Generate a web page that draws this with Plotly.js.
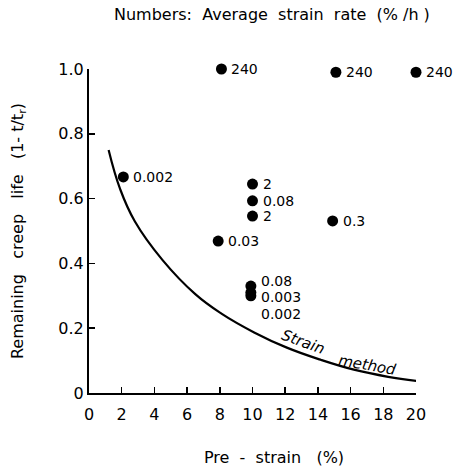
<!DOCTYPE html>
<html><head><meta charset="utf-8">
<script src="https://cdn.plot.ly/plotly-3.0.1.min.js"></script>
<style>html,body{margin:0;padding:0;background:#fff}#chart{width:472px;height:475px}</style>
</head><body><div id="chart"></div>
<script>
// Data points: pre-strain (%), remaining creep life, average strain rate label (%/h)
const preStrain     = [8.1, 15.1, 20.0, 2.1, 10.0, 10.0, 10.0, 14.9, 7.9, 9.9, 9.9, 9.9];
const remainingLife = [1.0, 0.99, 0.99, 0.667, 0.645, 0.593, 0.546, 0.531, 0.469, 0.33, 0.31, 0.30];
const rateLabels    = ['240','240','240','0.002','2','0.08','2','0.3','0.03','0.08','0.003','0.002'];
// "Strain method" curve
const curveX = [1.2, 1.9, 2.8, 4.5, 6.5, 8.1, 10.1, 12.1, 14.2, 16.2, 18.3, 20.1];
const curveY = [0.75, 0.63, 0.53, 0.41, 0.305, 0.245, 0.187, 0.14, 0.102, 0.072, 0.05, 0.037];
// Axis ticks
const xTicks = [0,2,4,6,8,10,12,14,16,18,20];
const yTicks = [0,0.2,0.4,0.6,0.8,1.0];
const yTickText = ['0','0.2','0.4','0.6','0.8','1.0'];

// label placement offsets (px), styling only
const labelShiftY = [0,0,0,0,0,0,0,0,0,5,-4,-18];

const FONT = 'DejaVu Sans, sans-serif';
const traces = [
  {x: curveX, y: curveY, mode: 'lines', line: {color: '#000', width: 2.2, shape: 'spline', smoothing: 1.2}, hoverinfo: 'skip'},
  {x: preStrain, y: remainingLife, mode: 'markers', marker: {color: '#000', size: 11}, cliponaxis: false}
];
const annotations = rateLabels.map((t, i) => ({
  x: preStrain[i], y: remainingLife[i], text: t, showarrow: false,
  xanchor: 'left', yanchor: 'middle', xshift: 8, yshift: labelShiftY[i],
  font: {family: FONT, size: 14, color: '#000'}
}));
annotations.push({x: 13.1, y: 0.158, text: '<i>Strain</i>', showarrow: false, textangle: 20,
  font: {family: FONT, size: 15, color: '#000'}});
annotations.push({x: 17.0, y: 0.085, text: '<i>method</i>', showarrow: false, textangle: 10,
  font: {family: FONT, size: 15, color: '#000'}});
annotations.push({xref: 'paper', yref: 'paper', x: 0.56, y: 1.167, xanchor: 'center', yanchor: 'middle',
  text: 'Numbers:  Average  strain  rate  (% /h )', showarrow: false,
  font: {family: FONT, size: 16, color: '#000'}});
annotations.push({xref: 'paper', yref: 'paper', x: 0.566, y: -0.2, xanchor: 'center', yanchor: 'middle',
  text: 'Pre  -  strain   (%)', showarrow: false,
  font: {family: FONT, size: 16, color: '#000'}});
annotations.push({xref: 'paper', yref: 'paper', x: -0.217, y: 0.5, xanchor: 'center', yanchor: 'middle',
  text: 'Remaining   creep   life   (1- t/t<sub>r</sub>)', showarrow: false, textangle: -90,
  font: {family: FONT, size: 16, color: '#000'}});

const layout = {
  width: 472, height: 475,
  margin: {l: 89, r: 56, t: 69, b: 82},
  paper_bgcolor: '#fff', plot_bgcolor: '#fff',
  showlegend: false,
  font: {family: FONT, size: 14, color: '#000'},
  xaxis: {range: [0, 20], tickvals: xTicks, ticktext: xTicks.map(String), ticks: 'inside', ticklen: 6,
    tickwidth: 1.5, tickcolor: '#000', showline: true, linecolor: '#000', linewidth: 2, showgrid: false,
    zeroline: false, ticklabelstandoff: 6,
    tickfont: {family: FONT, size: 16}},
  yaxis: {range: [0, 1.0], tickvals: yTicks, ticktext: yTickText, ticks: 'inside', ticklen: 6,
    tickwidth: 1.5, tickcolor: '#000', showline: true, linecolor: '#000', linewidth: 2, showgrid: false,
    zeroline: false,
    tickfont: {family: FONT, size: 16}},
  annotations: annotations
};
Plotly.newPlot('chart', traces, layout, {displayModeBar: false, staticPlot: true});
</script></body></html>
